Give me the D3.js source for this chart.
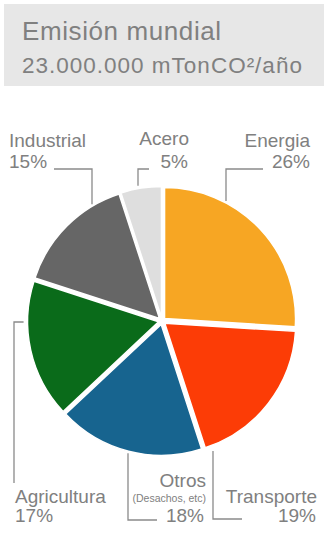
<!DOCTYPE html>
<html lang="es">
	<head>
		<meta charset="utf-8">
		<title>Emisión mundial</title>
		<script src="https://cdn.jsdelivr.net/npm/d3@7"></script>
		<style>
			body { margin: 0; background: #fff; }
			text { font-family: "Liberation Sans", Arial, sans-serif; fill: #808080; }
		</style>
	</head>
	<body>
		<script>

			//Datos
			var categorias = ["Energia", "Transporte", "Otros", "Agricultura", "Industrial", "Acero"];
			var porcentajes = [26, 19, 18, 17, 15, 5];
			var subtitulos = ["", "", "(Desachos, etc)", "", "", ""];
			var colores = ["#f7a623", "#fc3c06", "#17648f", "#0a6b1a", "#666666", "#dedede"];
			var titulo = "Emisión mundial";
			var subtitulo = "23.000.000 mTonCO²/año";

			var w = 327, h = 535;
			var cx = 162, cy = 321, r = 131, explode = 3.5;

			var svg = d3.select("body").append("svg")
				.attr("width", w)
				.attr("height", h);

			//Cabecera
			svg.append("rect")
				.attr("x", 4).attr("y", 4)
				.attr("width", 320).attr("height", 82)
				.style("fill", "#e7e7e7");
			svg.append("text")
				.attr("x", 22).attr("y", 40)
				.style("font-size", "26px")
				.style("letter-spacing", "0.6px")
				.text(titulo);
			svg.append("text")
				.attr("x", 22).attr("y", 73)
				.style("font-size", "22.5px")
				.style("letter-spacing", "1px")
				.text(subtitulo);

			//Pie
			var pie = d3.pie().sort(null).value(function(d) { return d; });
			var arcs = pie(porcentajes);
			var arc = d3.arc().innerRadius(0).outerRadius(r);

			//centro desplazado de cada porción
			arcs.forEach(function(d) {
				var a = (d.startAngle + d.endAngle) / 2;
				d.cx = cx + Math.sin(a) * explode;
				d.cy = cy - Math.cos(a) * explode;
			});

			svg.selectAll("path.slice")
				.data(arcs)
				.enter()
				.append("path")
				.attr("class", "slice")
				.attr("transform", function(d) { return "translate(" + d.cx + "," + d.cy + ")"; })
				.attr("d", arc)
				.style("fill", function(d, i) { return colores[i]; })
				.style("stroke", "#fff")
				.style("stroke-width", 1.5);

			//punto del borde a una x dada (arriba o abajo)
			function bordeY(d, x, abajo, gap) {
				var dy = Math.sqrt(r * r - (x - d.cx) * (x - d.cx));
				return abajo ? d.cy + dy + gap : d.cy - dy - gap;
			}
			function bordeX(d, y, gap) {
				var dx = Math.sqrt(r * r - (y - d.cy) * (y - d.cy));
				return d.cx - dx - gap;
			}

			//Etiquetas: posición y guías
			var etiquetas = [
				{ x: 310, anchor: "end", y1: 147, y2: 168, pctX: 310,
				  guia: function(d) { return [[263, 169], [226, 169], [226, bordeY(d, 226, false, 2)]]; } },
				{ x: 317, anchor: "end", y1: 503, y2: 522, pctX: 316,
				  guia: function(d) { return [[242, 519], [213, 519], [213, bordeY(d, 213, true, 6)]]; } },
				{ x: 206, anchor: "end", y1: 487, y2: 522, pctX: 204, ysub: 502,
				  guia: function(d) { return [[157, 520], [128, 520], [128, bordeY(d, 128, true, 2)]]; } },
				{ x: 15, anchor: "start", y1: 503, y2: 522, pctX: 15,
				  guia: function(d) { return [[14, 483], [14, 322], [bordeX(d, 322, 4), 322]]; } },
				{ x: 9, anchor: "start", y1: 147, y2: 168, pctX: 9,
				  guia: function(d) { return [[54, 169], [92, 169], [92, bordeY(d, 92, false, 2)]]; } },
				{ x: 189, anchor: "end", y1: 145, y2: 168, pctX: 188,
				  guia: function(d) { return [[149, 169], [138, 169], [138, bordeY(d, 138, false, 3)]]; } }
			];

			var linea = d3.line();

			arcs.forEach(function(d, i) {
				var e = etiquetas[i];
				svg.append("path")
					.attr("d", linea(e.guia(d)))
					.style("fill", "none")
					.style("stroke", "#8a8a8a")
					.style("stroke-width", 1.3);
				svg.append("text")
					.attr("x", e.x).attr("y", e.y1)
					.attr("text-anchor", e.anchor)
					.style("font-size", "19px")
					.text(categorias[i]);
				if (subtitulos[i]) {
					svg.append("text")
						.attr("x", e.x).attr("y", e.ysub)
						.attr("text-anchor", e.anchor)
						.style("font-size", "10.5px")
						.text(subtitulos[i]);
				}
				svg.append("text")
					.attr("x", e.pctX).attr("y", e.y2)
					.attr("text-anchor", e.anchor)
					.style("font-size", "19px")
					.text(porcentajes[i] + "%");
			});

		</script>
	</body>
</html>
